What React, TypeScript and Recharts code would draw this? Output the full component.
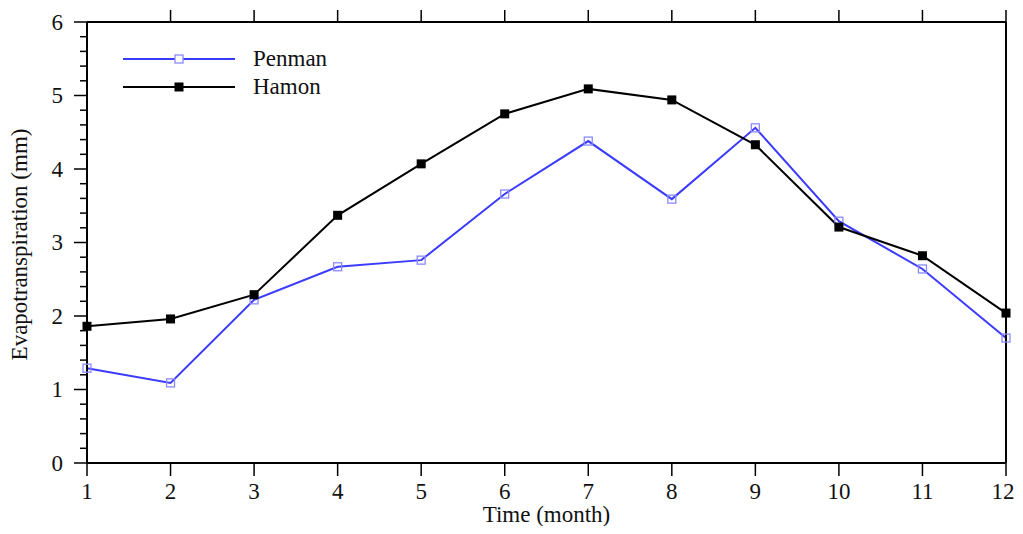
import React from "react";
import { LineChart, Line, XAxis, YAxis, Legend } from "recharts";

const months = [1, 2, 3, 4, 5, 6, 7, 8, 9, 10, 11, 12];
const penman = [1.29, 1.09, 2.22, 2.67, 2.76, 3.66, 4.38, 3.59, 4.56, 3.29, 2.64, 1.70];
const hamon = [1.86, 1.96, 2.29, 3.37, 4.07, 4.75, 5.09, 4.94, 4.33, 3.21, 2.82, 2.04];
const yTicks = [0, 0.2, 0.4, 0.6, 0.8, 1, 1.2, 1.4, 1.6, 1.8, 2, 2.2, 2.4, 2.6, 2.8, 3, 3.2, 3.4, 3.6, 3.8, 4, 4.2, 4.4, 4.6, 4.8, 5, 5.2, 5.4, 5.6, 5.8, 6];
const seriesNames = ["Penman", "Hamon"];
const yLabel = "Evapotranspiration (mm)";
const xLabel = "Time (month)";

const data = months.map((m, i) => ({ month: m, penman: penman[i], hamon: hamon[i] }));

const W = 1007;
const H = 518;
const FONT = "'Liberation Serif', 'Times New Roman', serif";
const FS = 23;
const BLUE = "#3b3bff";
const MARKER_BLUE = "#8a8aff";

const isMajor = (v: number) => Math.abs(v - Math.round(v)) < 1e-6;

const LeftTick = (props: any) => {
  const { x, y, payload } = props;
  const major = isMajor(payload.value);
  return (
    <g>
      <line x1={x} x2={x - (major ? 13 : 7)} y1={y} y2={y} stroke="#000" strokeWidth={1.5} />
      {major && (
        <text x={x - 24} y={y} textAnchor="end" dominantBaseline="central" fontFamily={FONT} fontSize={FS} fill="#111">
          {Math.round(payload.value)}
        </text>
      )}
    </g>
  );
};

const RightTick = (props: any) => {
  const { x, y, payload } = props;
  const major = isMajor(payload.value);
  return <line x1={x} x2={x + (major ? 14 : 8)} y1={y} y2={y} stroke="#000" strokeWidth={1.5} />;
};

const BottomTick = (props: any) => {
  const { x, y, payload } = props;
  const tx = Math.min(x, W - 12);
  return (
    <g>
      <line x1={x} x2={x} y1={y} y2={y + 13} stroke="#000" strokeWidth={1.5} />
      <text x={tx} y={y + 28} textAnchor="middle" dominantBaseline="central" fontFamily={FONT} fontSize={FS} fill="#111">
        {payload.value}
      </text>
    </g>
  );
};

const TopTick = (props: any) => {
  const { x, y } = props;
  return <line x1={x} x2={x} y1={y} y2={y - 12} stroke="#000" strokeWidth={1.5} />;
};

const HollowSquare = (props: any) => {
  const { cx, cy, index } = props;
  return <rect key={`p-${index}`} x={cx - 4} y={cy - 4} width={8} height={8} fill="none" stroke={MARKER_BLUE} strokeWidth={1.3} />;
};

const FilledSquare = (props: any) => {
  const { cx, cy, index } = props;
  return <rect key={`h-${index}`} x={cx - 4.5} y={cy - 4.5} width={9} height={9} fill="#000" stroke="none" />;
};

const LegendContent = () => (
  <div style={{ fontFamily: FONT, fontSize: FS, color: "#111" }}>
    {seriesNames.map((name, i) => (
      <div key={name} style={{ display: "flex", alignItems: "center", height: 28 }}>
        <svg width={114} height={14} style={{ display: "block" }}>
          <line x1={0} x2={112} y1={7} y2={7} stroke={i === 0 ? BLUE : "#000"} strokeWidth={2} />
          {i === 0 ? (
            <rect x={52} y={3} width={8} height={8} fill="#fff" stroke={MARKER_BLUE} strokeWidth={1.3} />
          ) : (
            <rect x={51.5} y={2.5} width={9} height={9} fill="#000" />
          )}
        </svg>
        <span style={{ marginLeft: 16, lineHeight: "28px" }}>{name}</span>
      </div>
    ))}
  </div>
);

export default function App() {
  return (
    <LineChart width={W} height={H} data={data} margin={{ top: 0, right: 0, bottom: 0, left: 0 }}>
      <XAxis
        dataKey="month"
        type="number"
        domain={[1, 12]}
        ticks={months}
        interval={0}
        tickSize={0}
        tickMargin={0}
        tick={BottomTick}
        height={63}
        axisLine={{ stroke: "#000", strokeWidth: 2 }}
        label={{
          content: (p: any) => {
            const vb = p.viewBox || {};
            return (
              <text x={vb.x + vb.width / 2} y={vb.y + 51} textAnchor="middle" dominantBaseline="central" fontFamily={FONT} fontSize={FS} fill="#111">
                {xLabel}
              </text>
            );
          },
        }}
      />
      <XAxis
        xAxisId="top"
        orientation="top"
        type="number"
        domain={[1, 12]}
        ticks={months}
        interval={0}
        tickSize={0}
        tickMargin={0}
        tick={TopTick}
        height={14}
        axisLine={{ stroke: "#000", strokeWidth: 2 }}
      />
      <YAxis
        type="number"
        domain={[0, 6]}
        ticks={yTicks}
        interval={0}
        tickSize={0}
        tickMargin={0}
        tick={LeftTick}
        width={79}
        axisLine={{ stroke: "#000", strokeWidth: 2 }}
        label={{
          content: (p: any) => {
            const vb = p.viewBox || {};
            const cx = 11;
            const cy = vb.y + vb.height / 2 + 2;
            return (
              <text x={cx} y={cy} transform={`rotate(-90, ${cx}, ${cy})`} textAnchor="middle" dominantBaseline="central" fontFamily={FONT} fontSize={FS} fill="#111">
                {yLabel}
              </text>
            );
          },
        }}
      />
      <YAxis
        yAxisId="right"
        orientation="right"
        type="number"
        domain={[0, 6]}
        ticks={yTicks}
        interval={0}
        tickSize={0}
        tickMargin={0}
        tick={RightTick}
        width={9}
        axisLine={{ stroke: "#000", strokeWidth: 2 }}
      />
      <Legend
        layout="vertical"
        align="center"
        verticalAlign="middle"
        content={LegendContent}
        wrapperStyle={{ position: "absolute", left: 115, top: 37, width: 260 }}
      />
      <Line
        dataKey="penman"
        name={seriesNames[0]}
        stroke={BLUE}
        strokeWidth={2}
        dot={HollowSquare}
        activeDot={false}
        isAnimationActive={false}
      />
      <Line
        dataKey="hamon"
        name={seriesNames[1]}
        stroke="#000"
        strokeWidth={2}
        dot={FilledSquare}
        activeDot={false}
        isAnimationActive={false}
      />
    </LineChart>
  );
}
